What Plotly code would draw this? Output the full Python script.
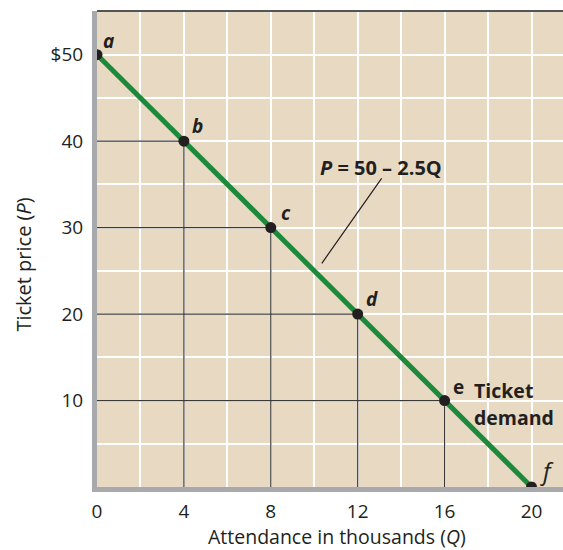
import plotly.graph_objects as go

# demand schedule
quantity = [0, 4, 8, 12, 16, 20]
price = [50, 40, 30, 20, 10, 0]
point_names = ["a", "b", "c", "d", "e", "f"]

x_grid = [0, 2, 4, 6, 8, 10, 12, 14, 16, 18, 20]
x_tick_text = ["0", "", "4", "", "8", "", "12", "", "16", "", "20"]
y_grid = [0, 5, 10, 15, 20, 25, 30, 35, 40, 45, 50, 55]
y_tick_text = ["", "", "10", "", "20", "", "30", "", "40", "", "$50", ""]

FONT = "Open Sans"
INK = "#231F20"
GREEN = "#1C8A3A"
AXIS_GRAY = "#A7A9AC"

fig = go.Figure()

# drop lines from b..e to the axes
for q, p in zip(quantity[1:-1], price[1:-1]):
    fig.add_trace(go.Scatter(x=[0, q, q], y=[p, p, 0], mode="lines",
                             line=dict(color="#3A3A3A", width=1.2),
                             hoverinfo="skip", showlegend=False))

fig.add_trace(go.Scatter(x=quantity, y=price, mode="lines",
                         line=dict(color=GREEN, width=5),
                         hoverinfo="skip", showlegend=False))

fig.add_trace(go.Scatter(x=quantity, y=price, mode="markers",
                         marker=dict(color=INK, size=11),
                         showlegend=False))

# point letters
label_fmt = ["<b><i>%s</i></b>"] * 4 + ["<b>%s</b>", "<i>%s</i>"]
label_dx = [11, 14, 15, 14, 14, 15]
label_dy = [-14, -15, -15, -15, -14, -17]
label_size = [19, 19, 19, 19, 19, 24]
for q, p, name, fmt, dx, dy, sz in zip(quantity, price, point_names, label_fmt,
                                       label_dx, label_dy, label_size):
    fig.add_annotation(x=q, y=p, text=fmt % name, showarrow=False,
                       xshift=dx, yshift=-dy,
                       font=dict(family=FONT, size=sz, color=INK))

# equation with leader line
fig.add_annotation(x=13.1, y=35.7, ax=10.3, ay=25.7, axref="x", ayref="y",
                   text="", showarrow=True, arrowhead=0, arrowwidth=1.2,
                   arrowcolor=INK)
fig.add_annotation(x=13.05, y=36.9, text="<b><i>P</i> = 50 – 2.5Q</b>",
                   showarrow=False, yanchor="middle",
                   font=dict(family=FONT, size=20, color=INK))

fig.add_annotation(x=17.25, y=11.2, text="<b>Ticket</b>", showarrow=False,
                   xanchor="left", yanchor="middle",
                   font=dict(family=FONT, size=19.5, color=INK))
fig.add_annotation(x=17.25, y=8.0, text="<b>demand</b>", showarrow=False,
                   xanchor="left", yanchor="middle",
                   font=dict(family=FONT, size=19.5, color=INK))

# axis titles
fig.add_annotation(xref="paper", yref="paper", x=0.515, y=-0.104,
                   text="Attendance in thousands (<i>Q</i>)", showarrow=False,
                   xanchor="center", yanchor="middle",
                   font=dict(family=FONT, size=19.5, color=INK))
fig.add_annotation(xref="paper", yref="paper", x=-0.158, y=0.468,
                   text="Ticket price (<i>P</i>)", showarrow=False, textangle=-90,
                   xanchor="center", yanchor="middle",
                   font=dict(family=FONT, size=20, color=INK))

# dark top border
fig.add_shape(type="line", xref="paper", yref="paper", x0=0, x1=1, y0=1, y1=1,
              line=dict(color="#555555", width=2))

fig.update_layout(
    width=563, height=550,
    margin=dict(l=97, r=0, t=11, b=63),
    paper_bgcolor="white",
    plot_bgcolor="#E8D9C3",
    font=dict(family=FONT, color=INK),
    xaxis=dict(range=[0, 21.45], tickvals=x_grid, ticktext=x_tick_text,
               showgrid=True, gridcolor="white", gridwidth=1.5,
               zeroline=False, showline=True, linecolor=AXIS_GRAY, linewidth=5,
               ticks="", tickfont=dict(size=19, color=INK), ticklabelstandoff=3),
    yaxis=dict(range=[0, 55.05], tickvals=y_grid, ticktext=y_tick_text,
               showgrid=True, gridcolor="white", gridwidth=1.5,
               zeroline=False, showline=True, linecolor=AXIS_GRAY, linewidth=5,
               ticks="", tickfont=dict(size=19, color=INK), ticklabelstandoff=5),
)

fig.write_html("out.html", config={"displayModeBar": False},
               post_script="document.body.style.margin='0px';")
